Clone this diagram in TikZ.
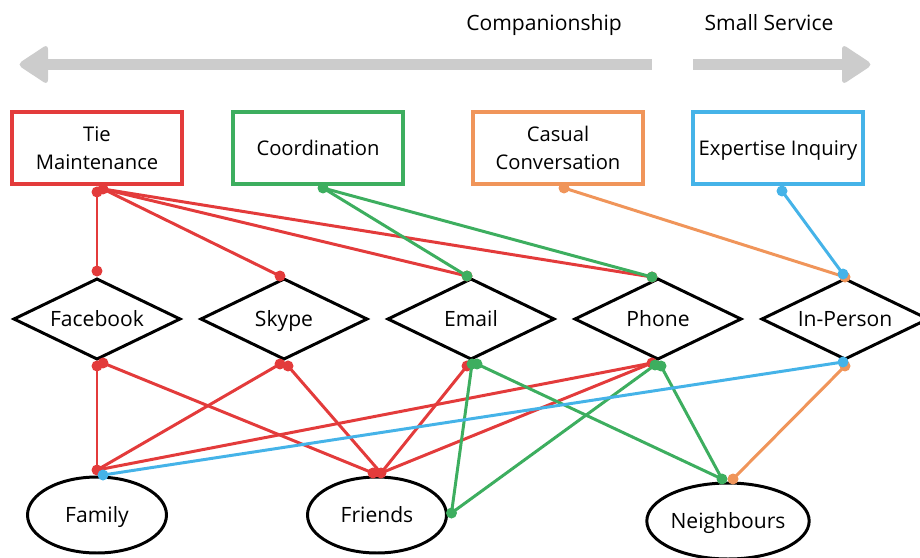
\documentclass[tikz,border=0pt]{standalone}
\usepackage{fontspec}
\setmainfont{Open Sans}
\usepackage{xcolor}
\usepackage{tikz}
\usetikzlibrary{shapes.geometric, arrows.meta, positioning, calc}

\definecolor{tmred}{HTML}{E33B3B}
\definecolor{cogreen}{HTML}{3DAE5F}
\definecolor{ccorange}{HTML}{F0955A}
\definecolor{eiblue}{HTML}{45B3E8}
\definecolor{scalegray}{HTML}{CCCCCC}

\begin{document}
\begin{tikzpicture}[
    x=0.02cm, y=-0.02cm,
    font=\fontsize{12}{16}\selectfont,
    task/.style={draw, line width=1.8pt, outer sep=0pt, minimum width=3.4cm, minimum height=1.44cm,
                 align=center, inner sep=2pt, font=\fontsize{11.5}{16}\selectfont},
    oneline/.style={text height=9pt, text depth=1pt},
    medium/.style={draw=black, diamond, aspect=2.07, line width=1.7pt, outer sep=0pt,
                   minimum width=3.32cm, minimum height=1.6cm, inner sep=0pt, oneline},
    group/.style={draw=black, ellipse, line width=1.7pt, outer sep=0pt,
                  minimum width=2.78cm, minimum height=1.52cm, inner sep=0pt, oneline},
    link/.style={line width=1.7pt, line cap=round}
]
\useasboundingbox (0,0) rectangle (920,558);

% === 上方刻度箭头 ===
\fill[scalegray] (45,59) rectangle (652,70);
\fill[scalegray, rounded corners=3pt] (48,44) -- (17,64.5) -- (48,85) -- cycle;
\fill[scalegray] (693,59) rectangle (845,70);
\fill[scalegray, rounded corners=3pt] (842,44) -- (873,64.5) -- (842,85) -- cycle;
\node[anchor=base] (comp) at (544,30) {Companionship};
\node[anchor=base] (serv) at (769,30) {Small Service};

% === 任务框 ===
\node[task, draw=tmred]             (tie)    at (97,148)  {Tie\\Maintenance};
\node[task, draw=cogreen, oneline]  (coord)  at (318,148) {Coordination};
\node[task, draw=ccorange]          (casual) at (558,148) {Casual\\Conversation};
\node[task, draw=eiblue, oneline]   (expert) at (778,148) {Expertise Inquiry};

% === 媒介（菱形）===
\node[medium] (fb) at (97,319)  {Facebook};
\node[medium] (sk) at (284,319) {Skype};
\node[medium] (em) at (471,319) {Email};
\node[medium] (ph) at (658,319) {Phone};
\node[medium] (ip) at (845,319) {In-Person};

% === 关系群体（椭圆）===
\node[group] (family)  at (97,515)  {Family};
\node[group] (friends) at (377,515) {Friends};
\node[group, minimum width=3.2cm] (neigh) at (728,521) {Neighbours};

% === 连接点 ===
\coordinate (tie-a) at ($(tie.south)+(0,8)$);
\coordinate (tie-b) at ($(tie.south)+(6,5)$);
\coordinate (co-b)  at ($(coord.south)+(5,4)$);
\coordinate (ca-b)  at ($(casual.south)+(6,4)$);
\coordinate (ex-b)  at ($(expert.south)+(4,7)$);

\coordinate (fb-t)  at ($(fb.north)+(0,-8)$);
\coordinate (sk-t)  at ($(sk.north)+(-4,-3)$);
\coordinate (em-t)  at ($(em.north)+(-4,-3)$);
\coordinate (ph-t)  at ($(ph.north)+(-6,-2)$);
\coordinate (ip-to) at ($(ip.north)+(0,-2)$);
\coordinate (ip-tb) at ($(ip.north)+(-2,-5)$);

\coordinate (fb-b1) at ($(fb.south)+(0,7)$);
\coordinate (fb-b2) at ($(fb.south)+(6,4)$);
\coordinate (sk-b1) at ($(sk.south)+(-4,5)$);
\coordinate (sk-b2) at ($(sk.south)+(4,7)$);
\coordinate (em-br) at ($(em.south)+(-4,7)$);
\coordinate (em-g1) at ($(em.south)+(1,5)$);
\coordinate (em-g2) at ($(em.south)+(6,5)$);
\coordinate (ph-br) at ($(ph.south)+(-6,4)$);
\coordinate (ph-g1) at ($(ph.south)+(-3,6)$);
\coordinate (ph-g2) at ($(ph.south)+(3,7)$);
\coordinate (ip-bb) at ($(ip.south)+(-2,3)$);
\coordinate (ip-bo) at ($(ip.south)+(0,7)$);

\coordinate (fa-r) at ($(family.north)+(0,-7)$);
\coordinate (fa-b) at ($(family.north)+(6,-2)$);
\coordinate (fr-a) at ($(friends.north)+(-4,-4)$);
\coordinate (fr-b) at ($(friends.north)+(4,-4)$);
\coordinate (fr-e) at ($(friends.east)+(5,-2)$);
\coordinate (ne-g) at ($(neigh.north)+(-6,-4)$);
\coordinate (ne-o) at ($(neigh.north)+(5,-4)$);

% === 红线：Tie Maintenance ===
\draw[link, tmred] (tie-a) -- (fb-t);
\draw[link, tmred] (tie-b) -- (sk-t);
\draw[link, tmred] (tie-b) -- (em-t);
\draw[link, tmred] (tie-b) -- (ph-t);
\draw[link, tmred] (fb-b1) -- (fa-r);
\draw[link, tmred] (fb-b2) -- (fr-a);
\draw[link, tmred] (sk-b1) -- (fa-r);
\draw[link, tmred] (sk-b2) -- (fr-b);
\draw[link, tmred] (em-br) -- (fr-b);
\draw[link, tmred] (ph-br) -- (fa-r);
\draw[link, tmred] (ph-br) -- (fr-b);
\foreach \p in {tie-a, tie-b, fb-t, sk-t, em-t, ph-t, fb-b1, fb-b2, sk-b1, sk-b2, em-br, ph-br, fa-r, fr-a, fr-b}
    \fill[tmred] (\p) circle[radius=0.11cm];

% === 绿线：Coordination ===
\draw[link, cogreen] (co-b) -- (em-t);
\draw[link, cogreen] (co-b) -- (ph-t);
\draw[link, cogreen] (em-g1) -- (fr-e);
\draw[link, cogreen] (em-g2) -- (ne-g);
\draw[link, cogreen] (ph-g1) -- (fr-e);
\draw[link, cogreen] (ph-g2) -- (ne-g);
\foreach \p in {co-b, em-t, ph-t, em-g1, em-g2, ph-g1, ph-g2, fr-e, ne-g}
    \fill[cogreen] (\p) circle[radius=0.11cm];

% === 橙线：Casual Conversation ===
\draw[link, ccorange] (ca-b) -- (ip-to);
\draw[link, ccorange] (ip-bo) -- (ne-o);
\foreach \p in {ca-b, ip-to, ip-bo, ne-o}
    \fill[ccorange] (\p) circle[radius=0.11cm];

% === 蓝线：Expertise Inquiry ===
\draw[link, eiblue] (ex-b) -- (ip-tb);
\draw[link, eiblue] (ip-bb) -- (fa-b);
\foreach \p in {ex-b, ip-tb, ip-bb, fa-b}
    \fill[eiblue] (\p) circle[radius=0.11cm];

\end{tikzpicture}
\end{document}
